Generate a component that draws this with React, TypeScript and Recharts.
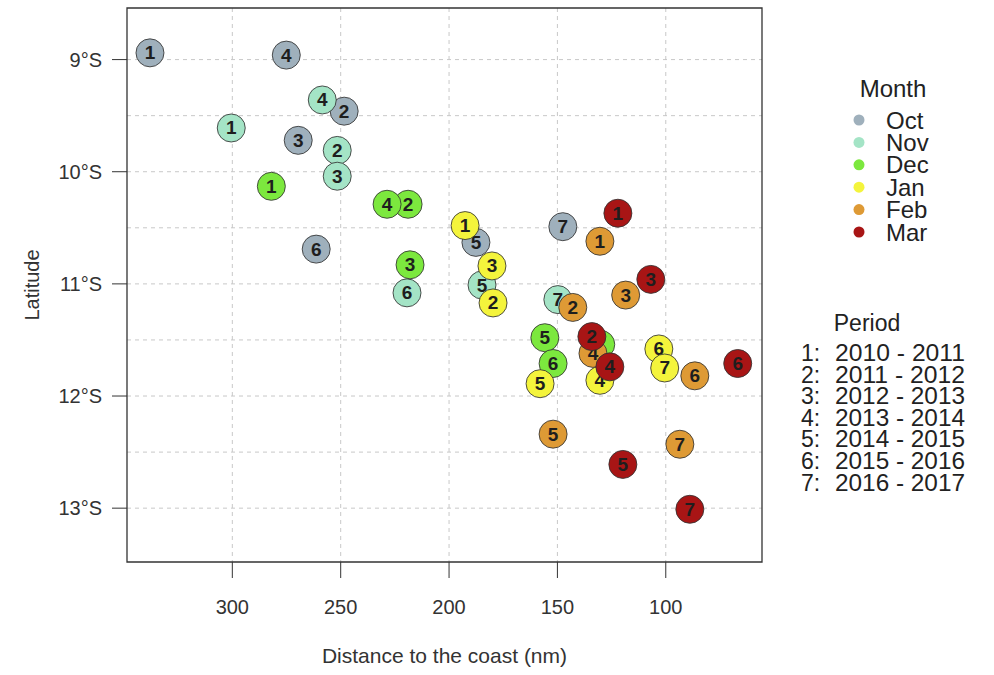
import React from 'react'
import { ScatterChart, Scatter, XAxis, YAxis, CartesianGrid, ReferenceArea } from 'recharts'

// months and their colours
const months = ['Oct', 'Nov', 'Dec', 'Jan', 'Feb', 'Mar']
const monthColors = ['#9fb0bc', '#a4e4c6', '#7ce83e', '#f4f43c', '#de9a35', '#a81515']

// fishing periods
const periodLabels = [
  '2010 - 2011',
  '2011 - 2012',
  '2012 - 2013',
  '2013 - 2014',
  '2014 - 2015',
  '2015 - 2016',
  '2016 - 2017'
]

// dist = distance to the coast (nm), lat = latitude (degrees south)
const octPoints = [
  { period: 1, dist: 338, lat: 8.94 },
  { period: 2, dist: 248.4, lat: 9.46 },
  { period: 3, dist: 269.6, lat: 9.72 },
  { period: 4, dist: 275.1, lat: 8.96 },
  { period: 5, dist: 187.6, lat: 10.63 },
  { period: 6, dist: 261.3, lat: 10.69 },
  { period: 7, dist: 147.5, lat: 10.49 }
]
const novPoints = [
  { period: 1, dist: 300.5, lat: 9.61 },
  { period: 2, dist: 251.6, lat: 9.81 },
  { period: 3, dist: 251.6, lat: 10.04 },
  { period: 4, dist: 258.5, lat: 9.36 },
  { period: 5, dist: 184.8, lat: 11.01 },
  { period: 6, dist: 219.4, lat: 11.08 },
  { period: 7, dist: 149.8, lat: 11.14 }
]
const decPoints = [
  { period: 1, dist: 282, lat: 10.13 },
  { period: 2, dist: 218.9, lat: 10.29 },
  { period: 3, dist: 218, lat: 10.83 },
  { period: 4, dist: 228.6, lat: 10.29 },
  { period: 5, dist: 155.8, lat: 11.48 },
  { period: 6, dist: 152, lat: 11.71 },
  { period: 7, dist: 130, lat: 11.54 }
]
const janPoints = [
  { period: 1, dist: 192.6, lat: 10.48 },
  { period: 2, dist: 179.7, lat: 11.17 },
  { period: 3, dist: 180.2, lat: 10.84 },
  { period: 4, dist: 130.4, lat: 11.86 },
  { period: 5, dist: 158, lat: 11.89 },
  { period: 6, dist: 103.2, lat: 11.58 },
  { period: 7, dist: 100.5, lat: 11.75 }
]
const febPoints = [
  { period: 1, dist: 130.4, lat: 10.62 },
  { period: 2, dist: 142.9, lat: 11.21 },
  { period: 3, dist: 118.5, lat: 11.1 },
  { period: 4, dist: 133.6, lat: 11.62 },
  { period: 5, dist: 152, lat: 12.34 },
  { period: 6, dist: 86.6, lat: 11.82 },
  { period: 7, dist: 93.5, lat: 12.43 }
]
const marPoints = [
  { period: 1, dist: 122.1, lat: 10.37 },
  { period: 2, dist: 134.1, lat: 11.47 },
  { period: 3, dist: 106.9, lat: 10.96 },
  { period: 4, dist: 125.8, lat: 11.74 },
  { period: 5, dist: 119.8, lat: 12.61 },
  { period: 6, dist: 66.8, lat: 11.71 },
  { period: 7, dist: 88.9, lat: 13.01 }
]
const monthPoints = [octPoints, novPoints, decPoints, janPoints, febPoints, marPoints]

const xTicks = [300, 250, 200, 150, 100]
const yTicks = [9, 10, 11, 12, 13]
const yGrid = [9, 9.5, 10, 10.5, 11, 11.5, 12, 12.5, 13]
const xDomain = [55.6, 348.6]
const yDomain = [8.54, 13.48]

const FONT = '"Liberation Sans", Arial, sans-serif'
const TEXT = '#333'
const LEGEND_TEXT = '#222'

// circle with the period number inside
const PointMark = (props: any) => {
  const { cx, cy, fill, payload } = props
  if (cx == null || cy == null) return null
  return (
    <g>
      <circle cx={cx} cy={cy} r={14} fill={fill} stroke="#333" strokeWidth={1} strokeOpacity={0.85} />
      <text
        x={cx}
        y={cy}
        dy={6.5}
        textAnchor="middle"
        fontSize={19}
        fontWeight="bold"
        fontFamily={FONT}
        fill="#1e1e1e"
      >
        {payload.period}
      </text>
    </g>
  )
}

export default function App() {
  return (
    <div
      style={{
        position: 'absolute',
        left: 0,
        top: 0,
        width: 994,
        height: 675,
        background: '#fff',
        fontFamily: FONT
      }}
    >
      <ScatterChart
        width={994}
        height={675}
        margin={{ top: 8, right: 232, bottom: 0, left: 0 }}
      >
        <CartesianGrid
          stroke="#c8c8c8"
          strokeDasharray="4 4"
          horizontalValues={yGrid}
          verticalValues={xTicks}
        />
        <XAxis
          type="number"
          dataKey="dist"
          domain={xDomain}
          reversed
          allowDataOverflow
          ticks={xTicks}
          height={113}
          axisLine={false}
          tickSize={16}
          tickMargin={22}
          tickLine={{ stroke: TEXT }}
          tick={{ fontSize: 20, fill: TEXT, fontFamily: FONT }}
          label={{
            content: (p: any) => {
              const vb = p.viewBox
              return (
                <text
                  x={vb.x + vb.width / 2}
                  y={663}
                  textAnchor="middle"
                  fontSize={21}
                  fill={TEXT}
                  fontFamily={FONT}
                >
                  Distance to the coast (nm)
                </text>
              )
            }
          }}
        />
        <YAxis
          type="number"
          dataKey="lat"
          domain={yDomain}
          reversed
          allowDataOverflow
          ticks={yTicks}
          width={127}
          axisLine={false}
          tickSize={15}
          tickMargin={10}
          tickLine={{ stroke: TEXT }}
          tick={{ fontSize: 20, fill: TEXT, fontFamily: FONT }}
          tickFormatter={(v: number) => `${v}°S`}
          label={{
            content: (p: any) => {
              const vb = p.viewBox
              const cy = vb.y + vb.height / 2
              return (
                <text
                  x={32}
                  y={cy}
                  transform={`rotate(-90 32 ${cy})`}
                  textAnchor="middle"
                  dy={7}
                  fontSize={20}
                  fill={TEXT}
                  fontFamily={FONT}
                >
                  Latitude
                </text>
              )
            }
          }}
        />
        <ReferenceArea
          x1={xDomain[0]}
          x2={xDomain[1]}
          y1={yDomain[0]}
          y2={yDomain[1]}
          fill="none"
          stroke="#333"
          strokeWidth={1.3}
          ifOverflow="visible"
        />
        {months.map((m, i) => (
          <Scatter
            key={m}
            name={m}
            data={monthPoints[i]}
            fill={monthColors[i]}
            shape={PointMark}
            isAnimationActive={false}
          />
        ))}
      </ScatterChart>

      {/* legends */}
      <svg
        width={994}
        height={675}
        style={{ position: 'absolute', left: 0, top: 0, pointerEvents: 'none' }}
      >
        <text x={893} y={97} textAnchor="middle" fontSize={24} fill={LEGEND_TEXT} fontFamily={FONT}>
          Month
        </text>
        {months.map((m, i) => (
          <g key={m}>
            <circle cx={859} cy={120 + i * 22.4} r={5.5} fill={monthColors[i]} />
            <text x={886} y={128.5 + i * 22.4} fontSize={24} fill={LEGEND_TEXT} fontFamily={FONT}>
              {m}
            </text>
          </g>
        ))}
        <text x={867} y={331} textAnchor="middle" fontSize={23} fill={LEGEND_TEXT} fontFamily={FONT}>
          Period
        </text>
        {periodLabels.map((p, i) => (
          <g key={p}>
            <text x={801} y={361} fontSize={23} fill={LEGEND_TEXT} fontFamily={FONT} dy={i * 21.6}>
              {`${i + 1}:`}
            </text>
            <text
              x={835}
              y={361}
              dy={i * 21.6}
              fontSize={23}
              fill={LEGEND_TEXT}
              fontFamily={FONT}
              textLength={130}
              lengthAdjust="spacingAndGlyphs"
            >
              {p}
            </text>
          </g>
        ))}
      </svg>
    </div>
  )
}
